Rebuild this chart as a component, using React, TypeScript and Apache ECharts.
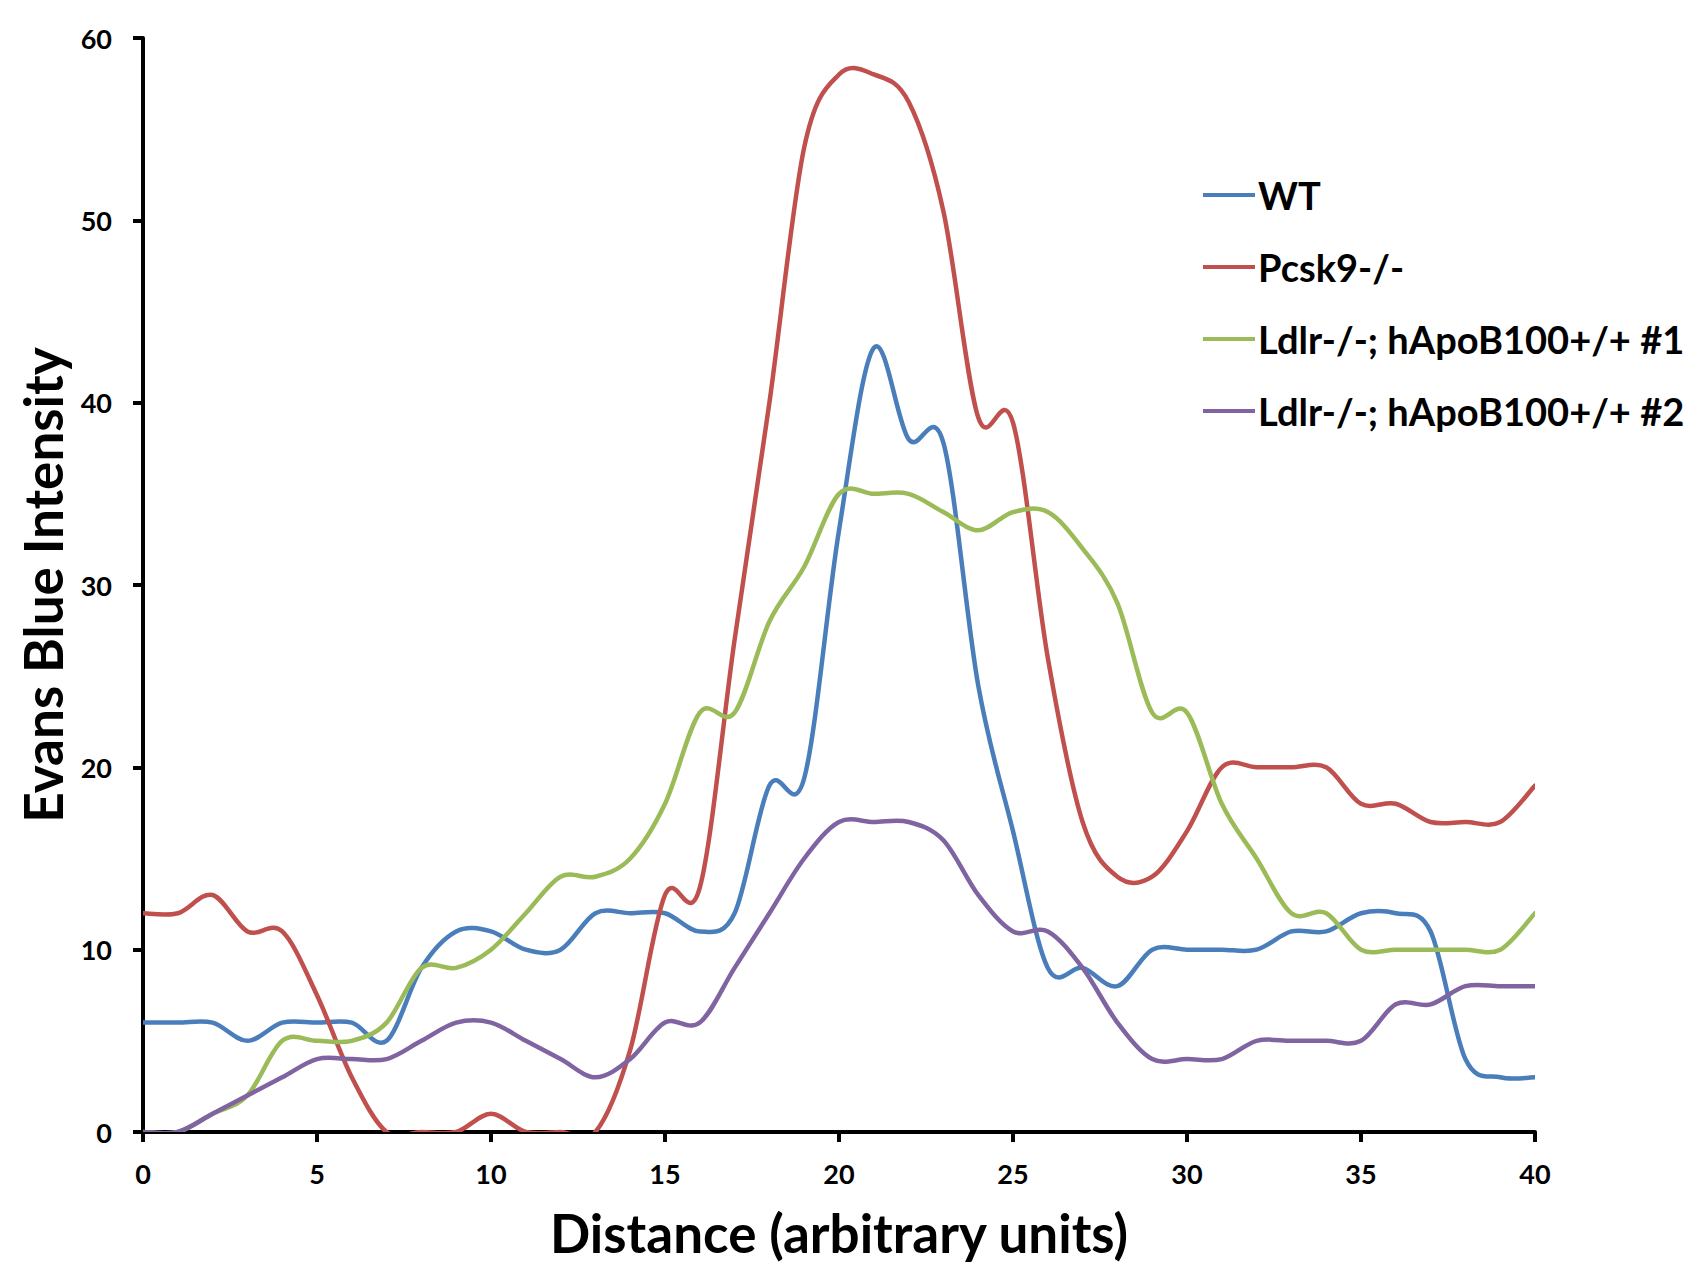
import React, { useEffect, useRef } from "react";
import * as echarts from "echarts";

const distance: number[] = Array.from({ length: 41 }, (_, i) => i);

const wt: number[] = [6, 6, 6, 5, 6, 6, 6, 5, 9, 11, 11, 10, 10, 12, 12, 12, 11, 12, 19, 19.4, 33, 43, 38, 37.8, 24.5, 16.5, 9, 9, 8, 10, 10, 10, 10, 11, 11, 12, 12, 11, 4, 3, 3];
const pcsk9: number[] = [12, 12, 13, 11, 11, 7.5, 3, 0, 0, 0, 1, 0, 0, 0, 4.5, 13, 13.4, 27, 40, 54, 58, 58, 56.5, 50.5, 39.2, 38.9, 26, 17, 14, 14, 16.5, 20, 20, 20, 20, 18, 18, 17, 17, 17, 19];
const ldlr1: number[] = [0, 0, 1, 2, 5, 5, 5, 6, 9, 9, 10, 12, 14, 14, 15, 18, 23, 23, 28, 31, 35, 35, 35, 34, 33, 34, 34, 32, 29, 23, 23, 18, 15, 12, 12, 10, 10, 10, 10, 10, 12];
const ldlr2: number[] = [0, 0, 1, 2, 3, 4, 4, 4, 5, 6, 6, 5, 4, 3, 4, 6, 6, 9, 12, 15, 17, 17, 17, 16, 13, 11, 11, 9, 6, 4, 4, 4, 5, 5, 5, 5, 7, 7, 8, 8, 8];

const seriesNames: string[] = ["WT", "Pcsk9-/-", "Ldlr-/-; hApoB100+/+ #1", "Ldlr-/-; hApoB100+/+ #2"];
const seriesColors: string[] = ["#4A7EBB", "#C0504D", "#9BBB59", "#8064A2"];
const seriesValues: number[][] = [wt, pcsk9, ldlr1, ldlr2];

const FONT = "Lato, 'Open Sans', sans-serif";

// Excel-style smoothed curve (Catmull-Rom as cubic Bezier), positioned via the chart's own scales
function makeRenderItem(values: number[], color: string) {
  return (params: any, api: any) => {
    if (params.dataIndex !== 0) return null;
    const pts: number[][] = distance.map((x, j) => api.coord([x, values[j]]));
    const n = pts.length;
    let d = `M${pts[0][0]},${pts[0][1]}`;
    for (let i = 0; i < n - 1; i++) {
      const p0 = pts[Math.max(0, i - 1)];
      const p1 = pts[i];
      const p2 = pts[i + 1];
      const p3 = pts[Math.min(n - 1, i + 2)];
      const c1x = p1[0] + (p2[0] - p0[0]) / 6;
      const c1y = p1[1] + (p2[1] - p0[1]) / 6;
      const c2x = p2[0] - (p3[0] - p1[0]) / 6;
      const c2y = p2[1] - (p3[1] - p1[1]) / 6;
      d += ` C${c1x},${c1y} ${c2x},${c2y} ${p2[0]},${p2[1]}`;
    }
    return {
      type: "path",
      shape: { pathData: d },
      style: { stroke: color, fill: "none", lineWidth: 4.5, lineJoin: "round", lineCap: "round" },
      silent: true,
    };
  };
}

export default function App() {
  const ref = useRef<HTMLDivElement>(null);
  useEffect(() => {
    document.body.style.margin = "0";
    if (!ref.current) return;
    const chart = echarts.init(ref.current, undefined, { renderer: "svg" });
    chart.setOption({
      animation: false,
      backgroundColor: "#ffffff",
      textStyle: { fontFamily: FONT },
      grid: { left: 143, right: 157, top: 38, bottom: 129, containLabel: false },
      legend: {
        orient: "vertical",
        left: 1198,
        top: 170,
        itemWidth: 52,
        itemHeight: 4,
        itemGap: 32,
        icon: "rect",
        data: seriesNames,
        textStyle: { fontFamily: FONT, fontWeight: "bold", fontSize: 38, color: "#000", lineHeight: 40, padding: [0, 0, 0, -2] },
      },
      xAxis: {
        type: "value",
        min: 0,
        max: 40,
        interval: 5,
        name: "Distance (arbitrary units)",
        nameLocation: "middle",
        nameGap: 74,
        nameTextStyle: { fontFamily: FONT, fontWeight: "bold", fontSize: 53, color: "#000" },
        axisLine: { show: true, lineStyle: { color: "#000", width: 4 } },
        axisTick: { show: true, inside: false, length: 10, lineStyle: { color: "#000", width: 4 } },
        axisLabel: { margin: 28, fontFamily: FONT, fontWeight: "bold", fontSize: 27, color: "#000" },
        splitLine: { show: false },
      },
      yAxis: {
        type: "value",
        min: 0,
        max: 60,
        interval: 10,
        name: "Evans Blue Intensity",
        nameLocation: "middle",
        nameGap: 74,
        nameRotate: 90,
        nameTextStyle: { fontFamily: FONT, fontWeight: "bold", fontSize: 53, color: "#000" },
        axisLine: { show: true, lineStyle: { color: "#000", width: 4 } },
        axisTick: { show: true, inside: false, length: 10, lineStyle: { color: "#000", width: 4 } },
        axisLabel: { margin: 31, fontFamily: FONT, fontWeight: "bold", fontSize: 27, color: "#000" },
        splitLine: { show: false },
      },
      series: seriesNames.map((name, i) => ({
        name,
        type: "custom",
        clip: true,
        itemStyle: { color: seriesColors[i] },
        renderItem: makeRenderItem(seriesValues[i], seriesColors[i]),
        encode: { x: 0, y: 1 },
        data: distance.map((x, j) => [x, seriesValues[i][j]]),
      })),
    });
    return () => chart.dispose();
  }, []);
  return <div ref={ref} style={{ width: 1692, height: 1264 }} />;
}
